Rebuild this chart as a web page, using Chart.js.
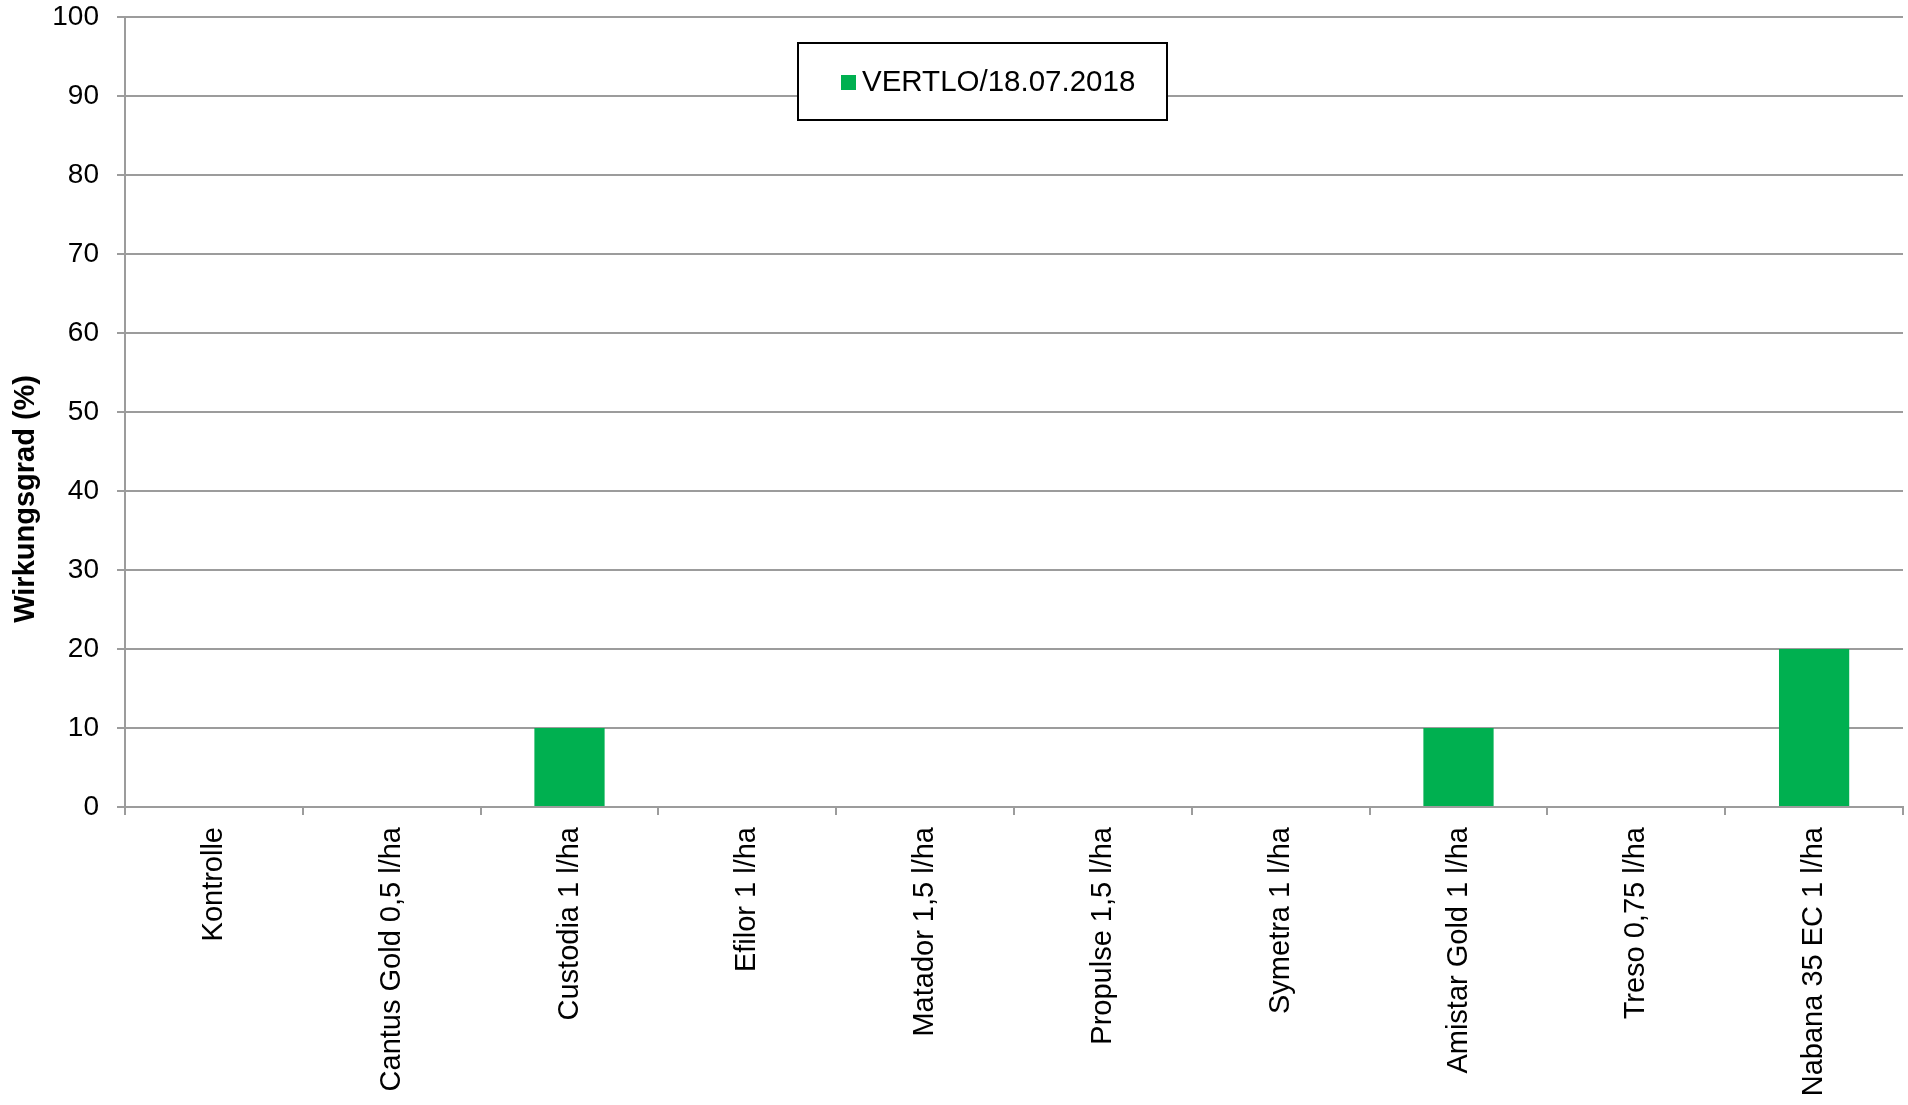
<!DOCTYPE html>
<html lang="de">
<head>
  <meta charset="UTF-8">
  <title>Wirkungsgrad VERTLO</title>
  <script src="https://cdn.jsdelivr.net/npm/chart.js"></script>
  <style>
    html, body {
      margin: 0;
      padding: 0;
      background: #ffffff;
    }
    #wrap {
      width: 1908px;
      height: 1105px;
      position: relative;
    }
  </style>
</head>
<body>
  <div id="wrap"><canvas id="chart"></canvas></div>

  <script>
    // Data
    const categories = [
      'Kontrolle',
      'Cantus Gold 0,5 l/ha',
      'Custodia 1 l/ha',
      'Efilor 1 l/ha',
      'Matador 1,5 l/ha',
      'Propulse 1,5 l/ha',
      'Symetra 1 l/ha',
      'Amistar Gold 1 l/ha',
      'Treso 0,75 l/ha',
      'Nabana 35 EC 1 l/ha'
    ];
    const seriesName = 'VERTLO/18.07.2018';
    const vertlo = [0, 0, 10, 0, 0, 0, 0, 10, 0, 20];
    const yTicks = [0, 10, 20, 30, 40, 50, 60, 70, 80, 90, 100];
    const yTitle = 'Wirkungsgrad (%)';

    const font = 'Liberation Sans, Arial, sans-serif';
    const gridColor = '#9c9c9c';
    const barColor = '#00b050';

    // Legend box floating inside the plot, plus the y axis title
    const extras = {
      id: 'extras',
      afterDraw(chart) {
        const ctx = chart.ctx;
        const area = chart.chartArea;
        ctx.save();

        // y title
        ctx.font = 'bold 29px ' + font;
        ctx.fillStyle = '#000';
        ctx.textAlign = 'center';
        ctx.textBaseline = 'middle';
        ctx.translate(26, area.top + (area.bottom - area.top) * 0.61);
        ctx.rotate(-Math.PI / 2);
        ctx.fillText(yTitle, 0, 0);
        ctx.restore();

        // legend
        ctx.save();
        const bx = area.left + 673, by = area.top + 26, bw = 369, bh = 77;
        ctx.fillStyle = '#fff';
        ctx.fillRect(bx, by, bw, bh);
        ctx.strokeStyle = '#000';
        ctx.lineWidth = 2;
        ctx.strokeRect(bx, by, bw, bh);
        const ds = chart.data.datasets[0];
        ctx.fillStyle = ds.backgroundColor;
        ctx.fillRect(bx + 43, by + 32, 15, 15);
        ctx.fillStyle = '#000';
        ctx.font = '29.5px ' + font;
        ctx.textAlign = 'left';
        ctx.textBaseline = 'middle';
        ctx.fillText(ds.label, bx + 64, by + 40);
        ctx.restore();
      }
    };

    const chart = new Chart(document.getElementById('chart'), {
      type: 'bar',
      data: {
        labels: categories,
        datasets: [{
          label: seriesName,
          data: vertlo,
          backgroundColor: barColor,
          borderWidth: 0,
          categoryPercentage: 1,
          barPercentage: 0.395
        }]
      },
      options: {
        responsive: true,
        maintainAspectRatio: false,
        animation: false,
        layout: {
          padding: { top: 0, right: 5, left: 0, bottom: 0 }
        },
        plugins: {
          legend: { display: false },
          tooltip: { enabled: false }
        },
        scales: {
          x: {
            afterFit(scale) { scale.height = 298; },
            grid: {
              drawOnChartArea: false,
              drawTicks: true,
              tickLength: 8,
              color: gridColor,
              lineWidth: 2
            },
            border: { color: gridColor, width: 2 },
            ticks: {
              minRotation: 90,
              maxRotation: 90,
              autoSkip: false,
              padding: 12,
              color: '#000',
              font: { family: font, size: 29 }
            }
          },
          y: {
            min: 0,
            max: 100,
            afterFit(scale) {
              scale.width = 125;
              scale.paddingTop = 17;
              scale.paddingBottom = 0;
            },
            afterBuildTicks(scale) {
              scale.ticks = yTicks.map(v => ({ value: v }));
            },
            grid: {
              color: gridColor,
              lineWidth: 2,
              tickLength: 8
            },
            border: { color: gridColor, width: 2 },
            ticks: {
              padding: 18,
              color: '#000',
              font: { family: font, size: 28 }
            }
          }
        }
      },
      plugins: [extras]
    });
  </script>
</body>
</html>
